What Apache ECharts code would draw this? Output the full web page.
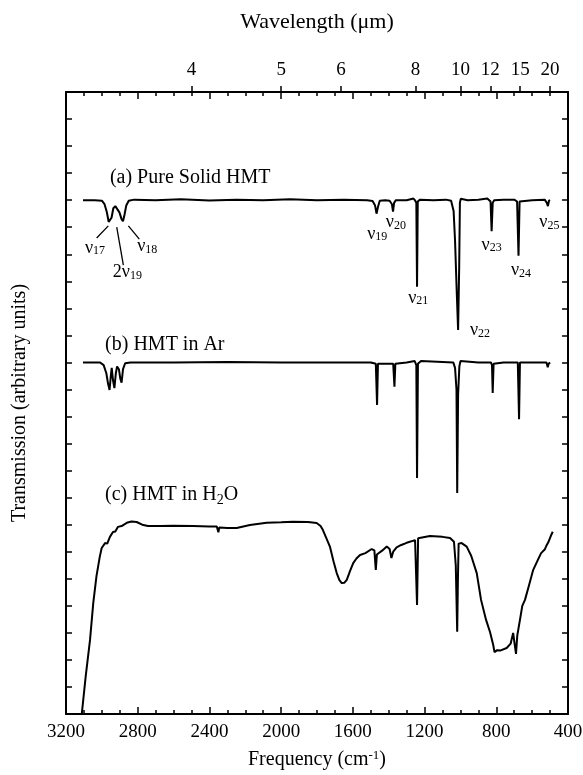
<!DOCTYPE html>
<html>
<head>
<meta charset="utf-8">
<title>HMT infrared spectra</title>
<script src="https://cdn.jsdelivr.net/npm/echarts@6/dist/echarts.min.js"></script>
<style>
  html, body { margin: 0; padding: 0; background: #fff; }
  #chart { width: 583px; height: 775px; }
</style>
</head>
<body>
<div id="chart"></div>
<script>
// frequency in cm-1, transmission in arbitrary units (each trace has its own offset)
const freqA = [3105, 3040, 3000, 2985, 2972, 2962, 2955, 2946, 2936, 2925, 2915, 2902, 2890, 2882, 2874, 2864, 2850, 2820,
  2700, 2560, 2400, 2250, 2100, 1950, 1800, 1650, 1520, 1490, 1476, 1468, 1460, 1450, 1420, 1395, 1382, 1376, 1370, 1360,
  1300, 1262, 1252, 1246, 1242, 1238, 1225, 1150, 1080, 1052, 1045, 1038, 1030, 1020, 1013, 1007, 1003, 998, 960, 900, 850,
  832, 826, 820, 812, 760, 700, 684, 676, 670, 660, 600, 530, 518, 512, 506, 500]
const transA = [19.0, 19.0, 18.98, 18.85, 18.55, 18.2, 18.15, 18.35, 18.7, 18.78, 18.72, 18.55, 18.3, 18.22, 18.45, 18.8, 18.98, 19.02,
  19.0, 19.03, 18.99, 19.02, 19.0, 19.03, 19.0, 19.02, 19.0, 18.97, 18.8, 18.5, 18.75, 18.98, 19.0, 18.98, 18.85, 18.58, 18.9, 19.0,
  19.0, 19.06, 18.98, 18.9, 15.8, 18.95, 19.02, 19.0, 19.02, 18.98, 18.95, 18.6, 17.5, 15.5, 14.2, 16.5, 18.9, 19.05, 19.0, 19.02, 19.06,
  18.95, 17.85, 18.9, 19.0, 19.02, 19.02, 18.95, 16.95, 18.95, 19.02, 19.0, 19.02, 18.9, 18.78, 18.98, 19.0]

const freqB = [3105, 3010, 2990, 2975, 2965, 2957, 2950, 2945, 2938, 2930, 2922, 2915, 2905, 2897, 2890, 2882, 2870, 2840,
  2600, 2300, 2000, 1700, 1500, 1472, 1465, 1460, 1375, 1368, 1363, 1300, 1255, 1246, 1242, 1237, 1220, 1100,
  1040, 1030, 1022, 1018, 1013, 1006, 1000, 900, 830, 824, 820, 815, 760, 680, 673, 668, 560, 520, 513, 508, 500]
const transB = [13.0, 13.0, 12.9, 12.6, 12.2, 11.98, 12.5, 12.8, 12.35, 12.05, 12.6, 12.85, 12.75, 12.4, 12.25, 12.75, 12.97, 13.0,
  13.0, 13.02, 13.0, 13.0, 13.0, 12.95, 11.43, 12.95, 12.95, 12.1, 12.95, 13.0, 13.05, 12.9, 8.73, 12.95, 13.05, 13.02,
  13.0, 12.8, 12.0, 8.17, 11.8, 12.85, 13.05, 13.0, 13.0, 12.9, 11.87, 12.95, 13.0, 13.0, 10.9, 13.0, 13.0, 13.0, 12.82, 12.95, 13.0]

const freqC = [3112, 3090, 3066, 3048, 3030, 3012, 3001, 2990, 2982, 2970, 2955, 2945, 2938, 2925, 2910, 2890, 2861, 2835, 2806,
  2775, 2743, 2676, 2600, 2492, 2400, 2359, 2350, 2345, 2300, 2248, 2174, 2081, 2000, 1934, 1850, 1802, 1780, 1767, 1748, 1728,
  1708, 1690, 1675, 1662, 1648, 1634, 1615, 1598, 1580, 1560, 1530, 1495, 1480, 1472, 1466, 1458, 1435, 1411, 1395, 1385, 1375,
  1356, 1330, 1300, 1253, 1246, 1242, 1236, 1226, 1170, 1100, 1058, 1036, 1026, 1018, 1014, 1010, 993, 965, 940, 909, 885, 857,
  835, 817, 810, 795, 775, 742, 720, 706, 698, 690, 683, 668, 655, 640, 620, 594, 568, 550, 530, 522, 510, 495, 485]
const transC = [0.0, 1.4, 2.74, 4.1, 5.1, 5.8, 6.14, 6.2, 6.32, 6.3, 6.55, 6.5, 6.73, 6.75, 6.92, 6.95, 7.07, 7.12, 7.1,
  7.0, 6.95, 6.95, 6.96, 6.95, 6.93, 6.93, 6.72, 6.9, 6.88, 6.88, 6.99, 7.07, 7.09, 7.11, 7.1, 7.06, 6.95, 6.8, 6.5, 6.19,
  5.65, 5.21, 4.95, 4.84, 4.85, 4.96, 5.3, 5.58, 5.75, 5.88, 5.95, 6.1, 6.05, 5.33, 5.9, 5.95, 6.05, 6.19, 6.1, 5.77, 6.0,
  6.16, 6.25, 6.33, 6.43, 6.45, 4.03, 6.5, 6.55, 6.58, 6.55, 6.51, 6.37, 5.5, 3.04, 5.0, 6.3, 6.32, 6.19, 5.85, 5.21, 4.22, 3.48,
  3.03, 2.55, 2.29, 2.36, 2.35, 2.44, 2.6, 3.0, 2.6, 2.22, 2.9, 3.48, 4.0, 4.22, 4.7, 5.33, 5.7, 5.95, 6.08, 6.2, 6.35, 6.6, 6.74]

// top axis: wavelength in micrometres
const wavelengths = [4, 5, 6, 8, 10, 12, 15, 20]

// trace titles
const traceLabels = ['(a) Pure Solid HMT', '(b) HMT in Ar', '(c) HMT in H2O']
const traceLabelFreq = [2955, 2982, 2982]
const traceLabelTrans = [19.82, 13.65, 8.1]

// band assignments on trace (a)
const bandLabels = ['ν17', '2ν19', 'ν18', 'ν19', 'ν20', 'ν21', 'ν22', 'ν23', 'ν24', 'ν25']
const bandFreq = [3038, 2858, 2747, 1464, 1360, 1235, 891, 826, 662, 504]
const bandTrans = [17.22, 16.32, 17.28, 17.75, 18.17, 15.37, 14.18, 17.34, 16.39, 18.17]
const leaderFrom = [[3029, 17.6], [2880, 16.6], [2791, 17.56]]
const leaderTo = [[2964, 18.05], [2917, 18.0], [2852, 18.05]]

const serif = '"Liberation Serif", "Times New Roman", serif'
const ink = '#000'
const zip = (xs, ys) => xs.map((x, i) => [x, ys[i]])
const subRich = { s: { fontSize: 12, lineHeight: 12, verticalAlign: 'bottom', fontFamily: serif, color: ink } }

const chart = echarts.init(document.getElementById('chart'))

function freqAxis(pos) {
  return {
    type: 'value',
    position: pos,
    min: 400,
    max: 3200,
    interval: 400,
    inverse: true,
    axisLine: { onZero: false, lineStyle: { color: ink, width: 2 } },
    axisTick: { inside: true, length: 7, lineStyle: { color: ink, width: 1.5 } },
    minorTick: { show: true, splitNumber: 4, length: 4, lineStyle: { color: ink, width: 1.5 } },
    splitLine: { show: false },
    axisLabel: {
      show: pos === 'bottom', color: ink, fontFamily: serif, fontSize: 19, margin: 9,
      formatter: v => String(v)
    }
  }
}

function transAxis(pos) {
  return {
    type: 'value',
    position: pos,
    min: 0,
    max: 23,
    interval: 1,
    axisLine: { show: true, lineStyle: { color: ink, width: 2 } },
    axisTick: { show: true, inside: true, length: 6, lineStyle: { color: ink, width: 1.5 } },
    axisLabel: { show: false },
    splitLine: { show: false }
  }
}

const bottomAxis = freqAxis('bottom')
bottomAxis.name = 'Frequency (cm{sup|-1})'
bottomAxis.nameLocation = 'middle'
bottomAxis.nameGap = 35
bottomAxis.nameTextStyle = {
  color: ink, fontFamily: serif, fontSize: 20, lineHeight: 22,
  rich: { sup: { fontSize: 13, lineHeight: 13, verticalAlign: 'top', fontFamily: serif, color: ink } }
}

const waveTicks = wavelengths.map(w => 10000 / w)
const waveAxis = {
  type: 'value',
  position: 'top',
  min: 400,
  max: 3200,
  inverse: true,
  name: 'Wavelength (μm)',
  nameLocation: 'middle',
  nameGap: 59,
  nameTextStyle: { color: ink, fontFamily: serif, fontSize: 22 },
  axisLine: { show: false, onZero: false },
  axisTick: { show: true, inside: false, length: 6, customValues: waveTicks, lineStyle: { color: ink, width: 1.5 } },
  axisLabel: {
    show: true, customValues: waveTicks, color: ink, fontFamily: serif, fontSize: 19, margin: 12,
    formatter: v => String(Math.round(10000 / v))
  },
  splitLine: { show: false }
}

const leftAxis = transAxis('left')
leftAxis.name = 'Transmission (arbitrary units)'
leftAxis.nameLocation = 'middle'
leftAxis.nameGap = 36
leftAxis.nameTextStyle = { color: ink, fontFamily: serif, fontSize: 20 }

const traceStyle = { color: ink, width: 2 }
function trace(name, xs, ys) {
  return {
    name,
    type: 'line',
    xAxisIndex: 0,
    yAxisIndex: 0,
    data: zip(xs, ys),
    showSymbol: false,
    symbol: 'none',
    lineStyle: traceStyle,
    z: 3
  }
}

chart.setOption({
  animation: false,
  backgroundColor: '#fff',
  grid: { left: 66, right: 15, top: 92, bottom: 61, containLabel: false, outerBoundsMode: 'none' },
  xAxis: [bottomAxis, freqAxis('top'), waveAxis],
  yAxis: [leftAxis, transAxis('right')],
  series: [
    trace('a', freqA, transA),
    trace('b', freqB, transB),
    trace('c', freqC, transC),
    {
      type: 'scatter',
      symbolSize: 0,
      silent: true,
      itemStyle: { opacity: 1 },
      data: zip(traceLabelFreq, traceLabelTrans),
      label: {
        show: true,
        position: 'right',
        distance: 0,
        color: ink,
        opacity: 1,
        fontFamily: serif,
        fontSize: 20,
        lineHeight: 24,
        formatter: p => traceLabels[p.dataIndex].replace('H2O', 'H{s|2}O'),
        rich: { s: { fontSize: 14, lineHeight: 14, verticalAlign: 'bottom', fontFamily: serif, color: ink } }
      }
    },
    {
      type: 'scatter',
      symbolSize: 0,
      silent: true,
      itemStyle: { opacity: 1 },
      data: zip(bandFreq, bandTrans),
      label: {
        show: true,
        position: 'inside',
        color: ink,
        opacity: 1,
        fontFamily: serif,
        fontSize: 18,
        lineHeight: 18,
        formatter: p => bandLabels[p.dataIndex].replace(/(\d+)$/, '{s|$1}'),
        rich: subRich
      }
    },
    {
      type: 'lines',
      coordinateSystem: 'cartesian2d',
      silent: true,
      lineStyle: { color: ink, width: 1.3, opacity: 1 },
      data: leaderFrom.map((c, i) => ({ coords: [c, leaderTo[i]] }))
    }
  ]
})
</script>
</body>
</html>
